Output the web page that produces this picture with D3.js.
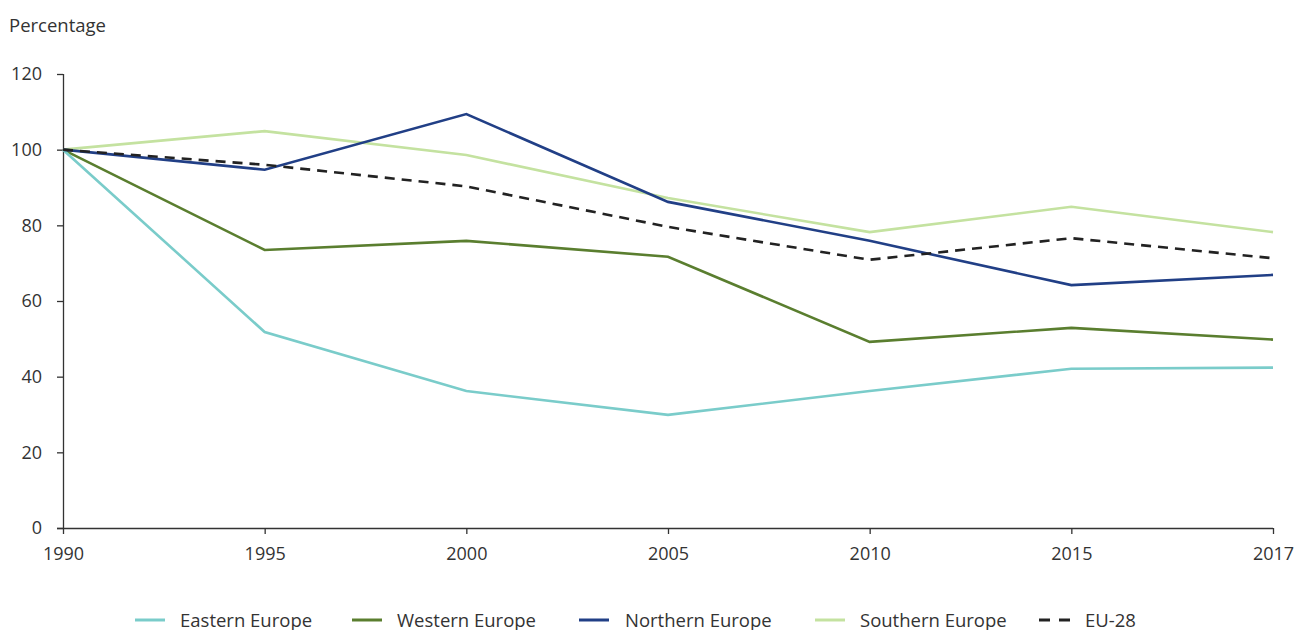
<!DOCTYPE html>
<html><head><meta charset="utf-8">
<script src="https://cdn.jsdelivr.net/npm/d3@7"></script>
<style>body{margin:0;background:#fff;font-family:"Open Sans",sans-serif;}</style>
</head><body><svg id="c" width="1294" height="630"></svg>
<script>
const years = ["1990","1995","2000","2005","2010","2015","2017"];
const eastern  = [100, 51.8, 36.2, 29.9, 36.2, 42.1, 42.4];
const western  = [100, 73.5, 75.9, 71.7, 49.2, 52.9, 49.8];
const northern = [100, 94.7, 109.4, 86.2, 75.9, 64.2, 66.9];
const southern = [100, 104.9, 98.6, 87.2, 78.2, 84.9, 78.2];
const eu28     = [100, 96.0, 90.3, 79.6, 70.9, 76.6, 71.3];
const yTicks = [0, 20, 40, 60, 80, 100, 120];
const seriesNames = ["Eastern Europe","Western Europe","Northern Europe","Southern Europe","EU-28"];

const series = [
  {name: seriesNames[0], values: eastern,  color: "#7accca", dash: null},
  {name: seriesNames[1], values: western,  color: "#5a7e2f", dash: null},
  {name: seriesNames[2], values: northern, color: "#213f86", dash: null},
  {name: seriesNames[3], values: southern, color: "#c4e2a0", dash: null},
  {name: seriesNames[4], values: eu28,     color: "#222222", dash: "10,7"}
];

const svg = d3.select("#c");
const x = d3.scalePoint().domain(years).range([63, 1273]);
const y = d3.scaleLinear().domain([0, 120]).range([528, 74]);

const axisColor = "#333";
const txt = "#333";

const ya = svg.append("g").attr("transform","translate(63,0)")
  .call(d3.axisLeft(y).tickValues(yTicks).tickSize(6).tickPadding(15));
const xa = svg.append("g").attr("transform","translate(0,528)")
  .call(d3.axisBottom(x).tickSize(6).tickPadding(13));
[ya, xa].forEach(a => {
  a.select(".domain").attr("stroke", axisColor).attr("stroke-width", 1.3);
  a.selectAll(".tick line").attr("stroke", axisColor).attr("stroke-width", 1.3);
  a.selectAll(".tick text").attr("fill", txt).style("font-family","'Open Sans',sans-serif").style("font-size","18px");
});
xa.select(".domain").attr("d", "M57,0.5H1273");
ya.select(".domain").attr("d", "M0.5,528V74");

svg.append("text").attr("x", 9).attr("y", 32).attr("fill", txt)
  .style("font-size","18.5px").text("Percentage");

const line = d3.line().x((d,i) => x(years[i])).y(d => y(d));
const order = [3, 1, 0, 2, 4];
order.forEach(k => {
  const s = series[k];
  svg.append("path").datum(s.values)
    .attr("d", line).attr("fill","none")
    .attr("stroke", s.color).attr("stroke-width", 2.6)
    .attr("stroke-dasharray", s.dash)
    .attr("stroke-linejoin","miter");
});

// Legend
const legX = [135, 352, 579, 815, 1039];
const legTextX = [180, 397, 625, 860, 1085];
const lg = svg.append("g");
series.forEach((s, i) => {
  lg.append("line").attr("x1", legX[i]).attr("x2", legX[i] + (s.dash ? 31 : 30))
    .attr("y1", 620).attr("y2", 620)
    .attr("stroke", s.color).attr("stroke-width", 3)
    .attr("stroke-dasharray", s.dash ? "11,9" : null);
  lg.append("text").attr("x", legTextX[i]).attr("y", 626.5)
    .attr("fill", txt).style("font-size","18.5px").text(s.name);
});
</script></body></html>
